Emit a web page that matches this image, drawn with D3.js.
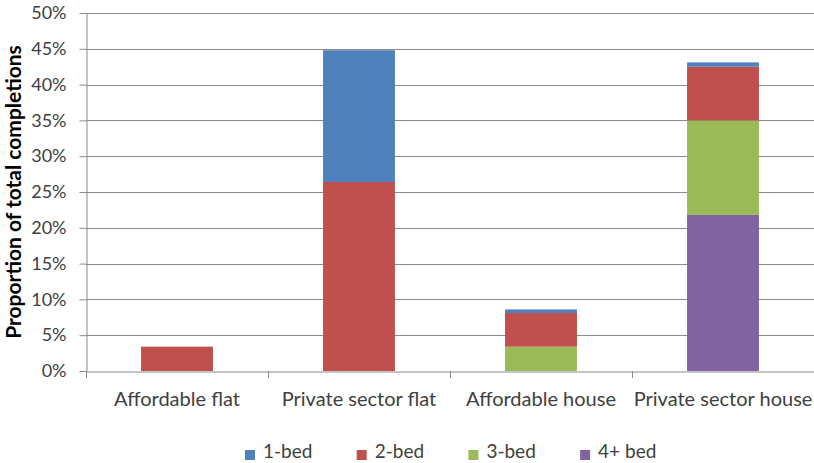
<!DOCTYPE html>
<html>
<head>
<meta charset="utf-8">
<script src="https://cdn.jsdelivr.net/npm/d3@7"></script>
<style>
  body { margin: 0; background: #fff; }
  svg { display: block; font-family: Lato, "Open Sans", sans-serif; }
</style>
</head>
<body>
<div id="chart"></div>
<script>
// Categories and series (percent of total completions)
const categories = ['Affordable flat', 'Private sector flat', 'Affordable house', 'Private sector house'];
const seriesNames = ['1-bed', '2-bed', '3-bed', '4+ bed'];
const bed1 = [0, 18.4, 0.5, 0.6];
const bed2 = [3.4, 26.4, 4.7, 7.5];
const bed3 = [0, 0, 3.4, 13.2];
const bed4 = [0, 0, 0, 21.8];
const yTicks = [0, 5, 10, 15, 20, 25, 30, 35, 40, 45, 50];
const colors = ['#4F81BD', '#C0504D', '#9BBB59', '#8064A2'];

const width = 814, height = 463;
const margin = { top: 13, right: 0, bottom: 92, left: 86 };

const svg = d3.select('#chart').append('svg')
  .attr('width', width)
  .attr('height', height);

const x = d3.scaleBand()
  .domain(categories)
  .range([margin.left, width - margin.right])
  .paddingInner(0)
  .paddingOuter(0);

const y = d3.scaleLinear()
  .domain([0, 50])
  .range([height - margin.bottom, margin.top]);

// Gridlines
svg.append('g')
  .selectAll('line')
  .data(yTicks.filter(t => t > 0))
  .enter()
  .append('line')
  .attr('x1', margin.left)
  .attr('x2', width)
  .attr('y1', d => Math.round(y(d)) + 0.5)
  .attr('y2', d => Math.round(y(d)) + 0.5)
  .attr('stroke', '#8a8a8a')
  .attr('stroke-width', 1);

// Stacked bars (bottom-up: 4+ bed, 3-bed, 2-bed, 1-bed)
const rows = categories.map((c, i) => ({
  cat: c, '1-bed': bed1[i], '2-bed': bed2[i], '3-bed': bed3[i], '4+ bed': bed4[i]
}));
const stack = d3.stack().keys(['4+ bed', '3-bed', '2-bed', '1-bed']);
const layers = stack(rows);
const barW = x.bandwidth() * 0.395;

svg.append('g')
  .selectAll('g')
  .data(layers)
  .enter()
  .append('g')
  .attr('fill', d => colors[seriesNames.indexOf(d.key)])
  .selectAll('rect')
  .data(d => d.filter(s => s[1] - s[0] > 0))
  .enter()
  .append('rect')
  .attr('x', d => x(d.data.cat) + x.bandwidth() / 2 - barW / 2)
  .attr('width', barW)
  .attr('y', d => y(d[1]))
  .attr('height', d => y(d[0]) - y(d[1]));

// Y axis
const yAxis = svg.append('g')
  .attr('transform', `translate(${margin.left + 0.5},0)`)
  .call(d3.axisLeft(y).tickValues(yTicks).tickFormat(d => d + '%').tickSize(7).tickSizeOuter(0));
yAxis.select('.domain').attr('stroke', '#8a8a8a');
yAxis.selectAll('.tick line').attr('stroke', '#8a8a8a');
yAxis.selectAll('.tick text')
  .attr('x', -20)
  .attr('font-size', '18px')
  .attr('fill', '#404040')
  .attr('font-family', 'Lato, sans-serif');

// X axis
const xAxis = svg.append('g')
  .attr('transform', `translate(0,${Math.round(y(0)) + 0.5})`)
  .call(d3.axisBottom(x).tickSize(0).tickSizeOuter(0));
xAxis.select('.domain').attr('stroke', '#8a8a8a');
xAxis.selectAll('.tick text')
  .attr('dy', 0)
  .attr('y', 34)
  .attr('font-size', '20px')
  .attr('fill', '#404040')
  .attr('font-family', 'Lato, sans-serif');

// Category boundary ticks
svg.append('g')
  .selectAll('line')
  .data(categories.map(c => x(c)).concat([x.range()[1]]))
  .enter()
  .append('line')
  .attr('x1', d => Math.round(d) + 0.5)
  .attr('x2', d => Math.round(d) + 0.5)
  .attr('y1', Math.round(y(0)))
  .attr('y2', Math.round(y(0)) + 7)
  .attr('stroke', '#8a8a8a');

// Y axis title
svg.append('text')
  .attr('transform', `translate(21,${(y(0) + y(50)) / 2}) rotate(-90)`)
  .attr('text-anchor', 'middle')
  .attr('font-size', '21px')
  .attr('font-weight', 'bold')
  .attr('fill', '#000')
  .text('Proportion of total completions');

// Legend
const legend = svg.append('g')
  .selectAll('g')
  .data(seriesNames)
  .enter()
  .append('g')
  .attr('transform', (d, i) => `translate(${245 + i * 111.7},448)`);

legend.append('rect')
  .attr('width', 10)
  .attr('height', 10)
  .attr('y', 2)
  .attr('fill', (d, i) => colors[i]);

legend.append('text')
  .attr('x', 18)
  .attr('y', 10)
  .attr('font-size', '19px')
  .attr('fill', '#404040')
  .text(d => d);
</script>
</body>
</html>
